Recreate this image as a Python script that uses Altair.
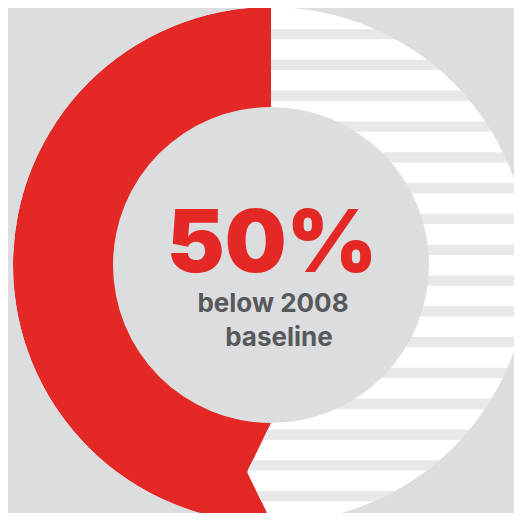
import altair as alt
import pandas as pd

# ---- data ----
categories = ["remaining", "below 2008 baseline"]
shares = [50, 50]
slice_order = [1, 2]
headline = ["50%"]
subtitle = ["below 2008", "baseline"]

# ---- layout constants (page coords minus the 8px body margin) ----
W, H = 506, 505
CX, CY = 263, 257
R_OUT, R_IN = 258, 158
BG = "#dcdddf"
RED = "#e42826"
WHITE = "#ffffff"
STRIPE = "#e8e8ea"
GREY_TEXT = "#58595b"

xs = alt.Scale(domain=[0, W], range=[0, W])
ys = alt.Scale(domain=[0, H], range=[0, H])

donut_df = pd.DataFrame({"category": categories, "share": shares, "ord": slice_order})

donut = alt.Chart(donut_df).mark_arc(outerRadius=R_OUT, innerRadius=R_IN - 2, stroke=None).encode(
    theta=alt.Theta("share:Q", stack=True),
    order=alt.Order("ord:Q"),
    color=alt.Color("category:N",
                    scale=alt.Scale(domain=["remaining", "below 2008 baseline"], range=[WHITE, RED]),
                    legend=None),
    x=alt.value(CX), y=alt.value(CY),
)

# decorative notch (chevron) cut into the bottom of the red arc
NOTCH_TOP, NOTCH_MID, NOTCH_BOT, NOTCH_DEPTH = 415, 464, 513, 24
notch_df = pd.DataFrame({
    "y": [NOTCH_TOP, NOTCH_MID, NOTCH_BOT],
    "x": [CX, CX - NOTCH_DEPTH, CX],
    "x2": [CX, CX, CX],
})
notch = alt.Chart(notch_df).mark_area(orient="horizontal", color=WHITE).encode(
    y=alt.Y("y:Q", scale=ys, axis=None),
    x=alt.X("x:Q", scale=xs, axis=None),
    x2="x2:Q",
)


def edge(y):
    if NOTCH_TOP <= y <= NOTCH_BOT:
        return CX - NOTCH_DEPTH * (1 - abs(y - NOTCH_MID) / (NOTCH_BOT - NOTCH_MID))
    return CX


# decorative horizontal stripes in the white half
rows = []
STRIPE_START, STRIPE_STEP, STRIPE_H = 21, 30.8, 10.3
k = 0
while STRIPE_START + STRIPE_STEP * k < H:
    y0 = STRIPE_START + STRIPE_STEP * k
    y1 = y0 + STRIPE_H
    pts = [y0, y1]
    if y0 < NOTCH_MID < y1:
        pts = [y0, NOTCH_MID, y1]
    for yy in pts:
        rows.append({"s": k, "y": yy, "x": edge(yy), "x2": W + 40})
    k += 1
stripe_df = pd.DataFrame(rows)
stripes = alt.Chart(stripe_df).mark_area(orient="horizontal", color=STRIPE).encode(
    y=alt.Y("y:Q", scale=ys, axis=None),
    x=alt.X("x:Q", scale=xs, axis=None),
    x2="x2:Q",
    detail="s:N",
)

# covers: outside the outer ring and the inner hole
cover_df = pd.DataFrame({"c": [0]})
outer_cover = alt.Chart(cover_df).mark_arc(
    theta=0, theta2=6.2832, innerRadius=R_OUT, outerRadius=900, color=BG
).encode(x=alt.value(CX), y=alt.value(CY))
inner_cover = alt.Chart(cover_df).mark_arc(
    theta=0, theta2=6.2832, innerRadius=0, outerRadius=R_IN, color=BG
).encode(x=alt.value(CX), y=alt.value(CY))

# texts
head = alt.Chart(pd.DataFrame({"t": headline})).mark_text(
    font="Inter", fontWeight=900, fontSize=87, color=RED, align="center", baseline="alphabetic"
).encode(text="t:N", x=alt.value(CX + 1), y=alt.value(264))

sub1 = alt.Chart(pd.DataFrame({"t": subtitle[:1]})).mark_text(
    font="Inter", fontWeight=700, fontSize=26, color=GREY_TEXT, align="center", baseline="alphabetic"
).encode(text="t:N", x=alt.value(CX + 2), y=alt.value(304))

sub2 = alt.Chart(pd.DataFrame({"t": subtitle[1:]})).mark_text(
    font="Inter", fontWeight=700, fontSize=26, color=GREY_TEXT, align="center", baseline="alphabetic"
).encode(text="t:N", x=alt.value(CX + 8), y=alt.value(338))

chart = alt.layer(donut, notch, stripes, outer_cover, inner_cover, head, sub1, sub2).properties(
    width=W, height=H, background=BG, padding=0, autosize=alt.AutoSizeParams(type="none")
).configure_view(stroke=None)

chart.save("out.html", embed_options={"renderer": "svg", "actions": False})
